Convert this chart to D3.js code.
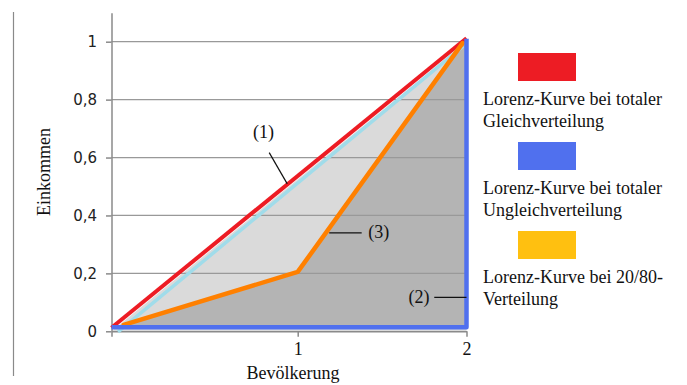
<!DOCTYPE html>
<html>
<head>
<meta charset="utf-8">
<script src="https://cdn.jsdelivr.net/npm/d3@7"></script>
<style>
html,body{margin:0;padding:0;background:#fff;}
svg{display:block;}
</style>
</head>
<body>
<svg id="chart" width="687" height="385"></svg>
<script>
// ---- data ----
const xTickValues = [0, 1, 2];
const xTickLabels = ["", "1", "2"];
const yTickValues = [0, 0.2, 0.4, 0.6, 0.8, 1];
const yTickLabels = ["0", "0,2", "0,4", "0,6", "0,8", "1"];

// (1) Lorenz-Kurve bei totaler Gleichverteilung
const gleichX = [0, 2];
const gleichY = [0.012, 1.012];
// light blue companion line under the diagonal
const diagX = [0.035, 1.98];
const diagY = [-0.002, 0.985];
// (2) totale Ungleichverteilung
const ungleichX = [0, 2, 2];
const ungleichY = [0.014, 0.014, 1.01];
// (3) 20/80-Verteilung
const verteilungX = [0.065, 1, 1.977];
const verteilungY = [0.022, 0.205, 0.995];

const legendLabels = [
  ["Lorenz-Kurve bei totaler", "Gleichverteilung"],
  ["Lorenz-Kurve bei totaler", "Ungleichverteilung"],
  ["Lorenz-Kurve bei 20/80-", "Verteilung"]
];
const legendColors = ["#ed1c24", "#5070ee", "#ffc010"];

const annotLabels = ["(1)", "(3)", "(2)"];
const annotTextX = [0.816, 1.418, 1.719];
const annotTextY = [0.667, 0.322, 0.098];
const annotLineX1 = [0.847, 1.187, 1.809];
const annotLineY1 = [0.617, 0.340, 0.117];
const annotLineX2 = [0.944, 1.379, 2.0];
const annotLineY2 = [0.509, 0.340, 0.117];

// ---- drawing ----
const svg = d3.select("#chart");
const serif = "'Liberation Serif','Times New Roman',serif";
const sans = "'DejaVu Sans',Verdana,sans-serif";

const x = d3.scaleLinear().domain([0, 1, 2]).range([111.5, 297.7, 466.5]);
const y = d3.scaleLinear().domain([0, 1.1]).range([331.3, 331.3 - 1.1 * 289.6]);

const pts = (xs, ys) => xs.map((v, i) => [v, ys[i]]);
const line = d3.line().x(d => x(d[0])).y(d => y(d[1]));

// outer left frame line
svg.append("line")
  .attr("x1", 13.5).attr("x2", 13.5).attr("y1", 12).attr("y2", 376)
  .attr("stroke", "#8a8a8a").attr("stroke-width", 1.2);

// fills
const lightPoly = [[0, 0], [2, 1.0], [2, 0]];
svg.append("path").datum(lightPoly)
  .attr("d", line.curve(d3.curveLinearClosed))
  .attr("fill", "#dadada");
const darkPoly = pts(verteilungX, verteilungY).concat([[2, 1.0], [2, ungleichY[0]], [verteilungX[0], ungleichY[0]]]);
svg.append("path").datum(darkPoly)
  .attr("d", line.curve(d3.curveLinearClosed))
  .attr("fill", "#b4b4b4");
line.curve(d3.curveLinear);

// gridlines
svg.append("g").selectAll("line").data(yTickValues.filter(v => v > 0)).join("line")
  .attr("x1", x(0)).attr("x2", x(2))
  .attr("y1", d => y(d)).attr("y2", d => y(d))
  .attr("stroke", "#999").attr("stroke-width", 1.2);

// axes
const yAxis = svg.append("g").attr("transform", `translate(${x(0)},0)`)
  .call(d3.axisLeft(y).tickValues(yTickValues).tickSize(5.5).tickSizeOuter(0).tickPadding(9)
    .tickFormat((d, i) => yTickLabels[i]));
yAxis.select(".domain").attr("stroke", "#8a8a8a").attr("stroke-width", 1.5);
yAxis.selectAll(".tick line").attr("stroke", "#8a8a8a").attr("stroke-width", 1.5);
yAxis.selectAll(".tick text").attr("font-family", sans).attr("font-size", 15).attr("fill", "#222");

const xAxis = svg.append("g").attr("transform", `translate(0,${y(0)})`)
  .call(d3.axisBottom(x).tickValues(xTickValues).tickSize(5.5).tickSizeOuter(0)
    .tickFormat((d, i) => xTickLabels[i]));
xAxis.select(".domain").attr("stroke", "#8a8a8a").attr("stroke-width", 1.5);
xAxis.selectAll(".tick line").attr("stroke", "#8a8a8a").attr("stroke-width", 1.5);
xAxis.selectAll(".tick text").attr("font-family", serif).attr("font-size", 18).attr("fill", "#111")
  .attr("y", 23.5).attr("dy", 0);

// lines
svg.append("path").datum(pts(diagX, diagY)).attr("d", line)
  .attr("fill", "none").attr("stroke", "#a0dcea").attr("stroke-width", 3.5);
svg.append("path").datum(pts(gleichX, gleichY)).attr("d", line)
  .attr("fill", "none").attr("stroke", "#ed1c24").attr("stroke-width", 4);
svg.append("path").datum(pts(verteilungX, verteilungY)).attr("d", line)
  .attr("fill", "none").attr("stroke", "#ff8000").attr("stroke-width", 4.5)
  .attr("stroke-linejoin", "round").attr("stroke-linecap", "round");
svg.append("path").datum(pts(ungleichX, ungleichY)).attr("d", line)
  .attr("fill", "none").attr("stroke", "#5070ee").attr("stroke-width", 4.5)
  .attr("stroke-linejoin", "round");

// annotations
const ann = svg.append("g");
annotLabels.forEach((t, i) => {
  ann.append("line")
    .attr("x1", x(annotLineX1[i])).attr("y1", y(annotLineY1[i]))
    .attr("x2", x(annotLineX2[i])).attr("y2", y(annotLineY2[i]))
    .attr("stroke", "#111").attr("stroke-width", 1.2);
  ann.append("text")
    .attr("x", x(annotTextX[i])).attr("y", y(annotTextY[i]))
    .attr("text-anchor", i === 1 ? "start" : "middle")
    .attr("font-family", serif).attr("font-size", 18).attr("fill", "#111")
    .text(t);
});

// axis titles
svg.append("text").attr("transform", "translate(50,172) rotate(-90)")
  .attr("text-anchor", "middle").attr("font-family", serif).attr("font-size", 18).attr("fill", "#111")
  .text("Einkommen");
svg.append("text").attr("x", 293).attr("y", 379)
  .attr("text-anchor", "middle").attr("font-family", serif).attr("font-size", 18).attr("fill", "#111")
  .text("Bevölkerung");

// legend
const lg = svg.append("g").attr("transform", "translate(483,53)");
legendLabels.forEach((lines, i) => {
  const g = lg.append("g").attr("transform", `translate(0,${i * 89})`);
  g.append("rect").attr("x", 35).attr("y", 0).attr("width", 58).attr("height", 28)
    .attr("fill", legendColors[i]);
  lines.forEach((t, j) => {
    g.append("text").attr("x", 0).attr("y", 52 + j * 21.5)
      .attr("font-family", serif).attr("font-size", 18).attr("fill", "#111")
      .text(t);
  });
});
</script>
</body>
</html>
